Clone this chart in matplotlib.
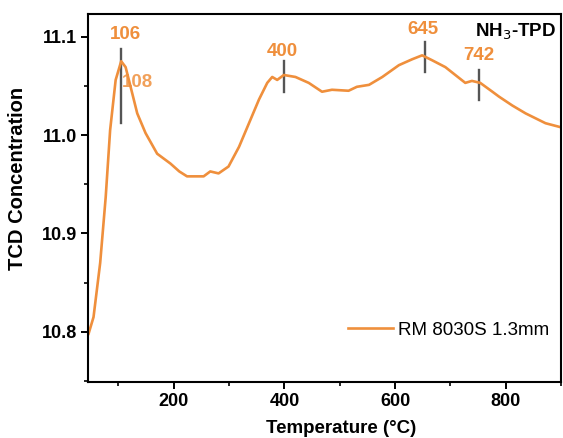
import matplotlib
matplotlib.use("Agg")
import matplotlib.pyplot as plt
from matplotlib.ticker import MultipleLocator

plt.rcParams['font.family'] = ['Liberation Sans', 'DejaVu Sans']

# curve (temperature in degC, TCD signal)
temp = [46, 55, 67, 77, 85, 95, 105, 113, 122, 134, 149, 160, 170, 182, 194, 210,
        224, 240, 254, 266, 281, 299, 318, 336, 354, 369, 378, 387, 399, 420,
        444, 468, 486, 516, 531, 553, 577, 607, 631, 649, 667, 691, 709, 727,
        739, 754, 776, 788, 812, 836, 872, 899]
tcd = [10.798, 10.815, 10.870, 10.937, 11.005, 11.056, 11.075, 11.069, 11.049,
       11.022, 11.002, 10.991, 10.981, 10.976, 10.971, 10.963, 10.958, 10.958,
       10.958, 10.963, 10.961, 10.968, 10.988, 11.012, 11.036, 11.053, 11.059,
       11.056, 11.061, 11.059, 11.053, 11.044, 11.046, 11.045, 11.049, 11.051,
       11.059, 11.071, 11.077, 11.081, 11.076, 11.069, 11.061, 11.053, 11.055,
       11.053, 11.044, 11.039, 11.030, 11.022, 11.012, 11.008]

# peak markers: x position, line bottom/top, label, label position
peak_x = [105, 399, 655, 752]
peak_lo = [11.012, 11.044, 11.064, 11.036]
peak_hi = [11.087, 11.075, 11.095, 11.066]
peak_labels = ["106", "400", "645", "742"]
label_x = [112, 396, 650, 752]
label_y = [11.102, 11.085, 11.107, 11.081]

orange = "#ef8f3c"

fig = plt.figure(figsize=(5.63, 4.38), dpi=100)
ax = fig.add_axes([88 / 563, 56 / 438, 473 / 563, 368 / 438])

for x, lo, hi in zip(peak_x, peak_lo, peak_hi):
    ax.plot([x, x], [lo, hi], color="#555555", lw=1.7, zorder=1)

ax.plot(temp, tcd, color=orange, lw=1.9, label="RM 8030S 1.3mm", zorder=2)

for lab, x, y in zip(peak_labels, label_x, label_y):
    ax.text(x, y, lab, color=orange, fontsize=13.5, fontweight="bold",
            ha="center", va="center", zorder=3)
ax.text(107, 11.053, "108", color=orange, fontsize=13.5, fontweight="bold",
        ha="left", va="center", alpha=0.85, zorder=3)

ax.text(892, 11.105, "NH$_3$-TPD", color="black", fontsize=13.5,
        fontweight="bold", ha="right", va="center")

ax.set_xlim(45, 900)
ax.set_ylim(10.749, 11.123)
ax.xaxis.set_major_locator(MultipleLocator(200))
ax.xaxis.set_minor_locator(MultipleLocator(100))
ax.yaxis.set_minor_locator(MultipleLocator(0.05))
ax.set_yticks([10.8, 10.9, 11.0, 11.1])
ax.set_yticklabels(["10.8", "10.9", "11.0", "11.1"])

ax.tick_params(which="major", direction="out", length=5, width=1.4,
               labelsize=13, pad=3)
ax.tick_params(which="minor", direction="out", length=3, width=1.2)
for lab in ax.get_xticklabels() + ax.get_yticklabels():
    lab.set_fontweight("bold")
for s in ax.spines.values():
    s.set_linewidth(1.5)

ax.set_xlabel("Temperature (\u00b0C)", fontsize=13.5, fontweight="bold")
ax.set_ylabel("TCD Concentration", fontsize=14.5, fontweight="bold")
ax.xaxis.set_label_coords(0.535, -0.102)
ax.yaxis.set_label_coords(-0.128, 0.552)

ax.legend(loc="center right", bbox_to_anchor=(1.0, 0.14), frameon=False,
          fontsize=13.5, handlelength=2.4, handletextpad=0.3, borderaxespad=0.2)

fig.savefig("out.png", dpi=100)
